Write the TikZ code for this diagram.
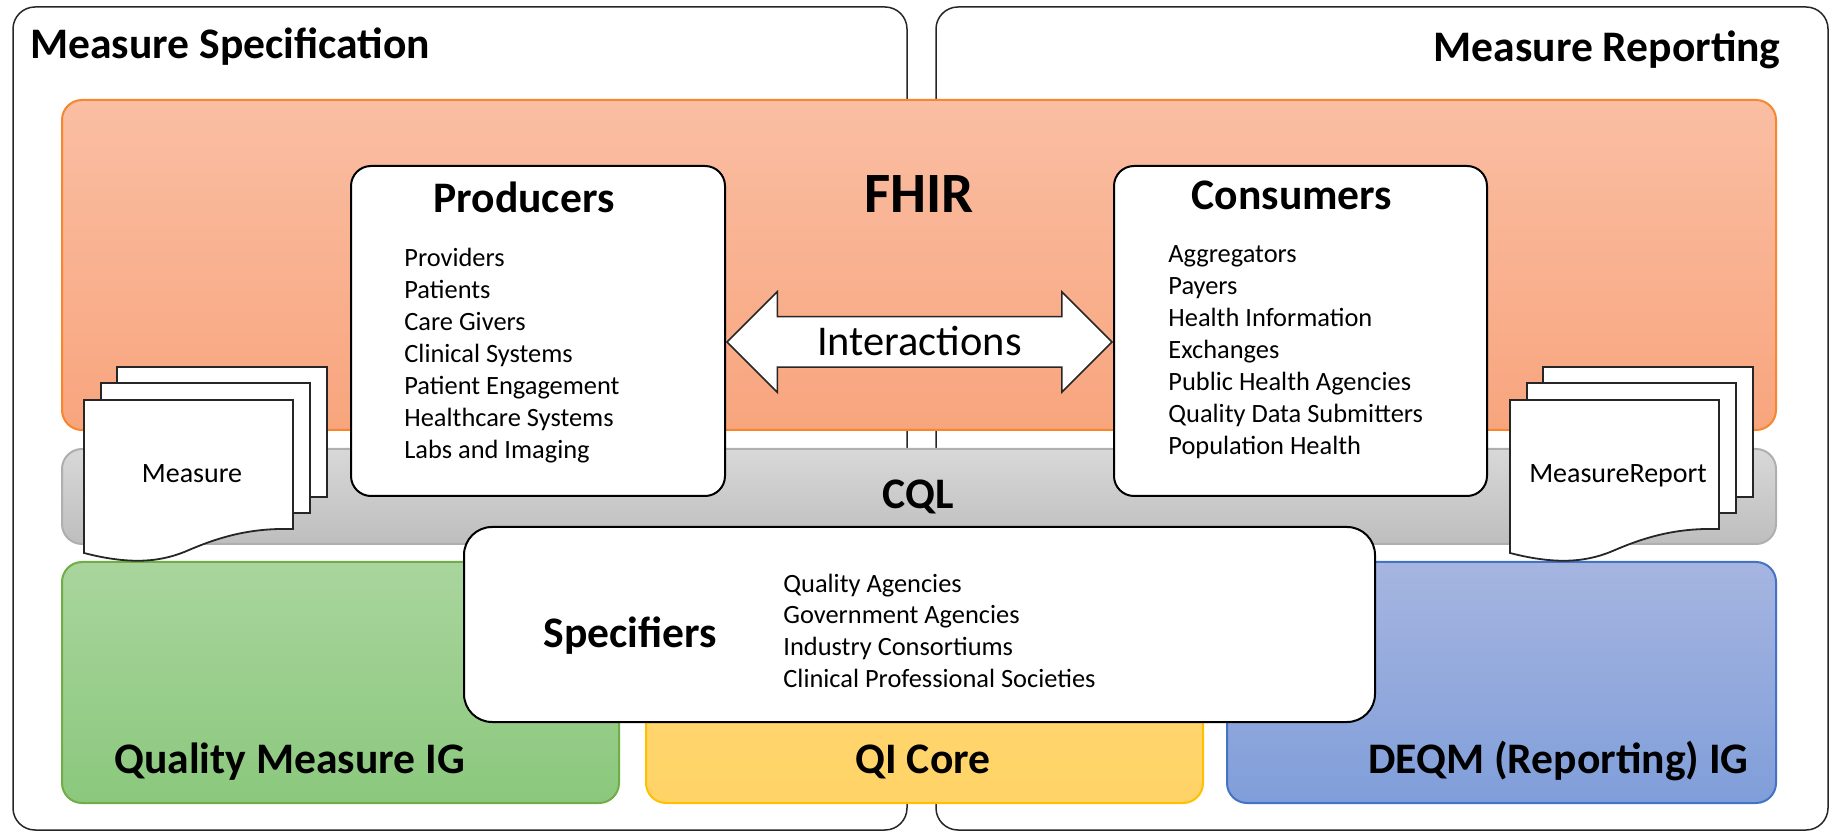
\documentclass[tikz,border=0pt]{standalone}
\usepackage{fontspec}
\setmainfont{Carlito}
\usetikzlibrary{shapes.arrows,calc,fit}
\definecolor{fhirline}{RGB}{247,134,46}
\definecolor{fhirtop}{RGB}{250,190,163}
\definecolor{fhirbot}{RGB}{248,165,125}
\definecolor{cqlline}{RGB}{175,175,175}
\definecolor{cqltop}{RGB}{216,216,216}
\definecolor{cqlbot}{RGB}{190,190,190}
\definecolor{qmline}{RGB}{112,173,71}
\definecolor{qmtop}{RGB}{169,213,157}
\definecolor{qmbot}{RGB}{139,200,125}
\definecolor{qiline}{RGB}{255,192,0}
\definecolor{qitop}{RGB}{255,216,122}
\definecolor{qibot}{RGB}{255,211,102}
\definecolor{deqmline}{RGB}{68,114,196}
\definecolor{deqmtop}{RGB}{166,181,224}
\definecolor{deqmbot}{RGB}{128,158,218}
\newcommand\ttlfont{\fontsize{21.8pt}{26pt}\selectfont\bfseries}
\newcommand\bigfont{\fontsize{28.5pt}{32pt}\selectfont\bfseries}
\newcommand\arrfont{\fontsize{21.2pt}{25pt}\selectfont}
\newcommand\itemfont{\fontsize{13.2pt}{16pt}\selectfont}
\newcommand\docfont{\fontsize{14pt}{17pt}\selectfont}

\begin{document}
\begin{tikzpicture}[x=0.5pt,y=-0.5pt,
  outer/.style={draw=black!85,line width=0.75pt,rounded corners=11pt,inner sep=0pt},
  band/.style={draw=#1line,line width=1pt,rounded corners=10pt,inner sep=0pt,top color=#1top,bottom color=#1bot},
  group/.style={draw=black,line width=1pt,fill=white,rounded corners=#1,inner sep=0pt},
  sheet/.style={draw=black!85,line width=0.9pt,fill=white},
  ttl/.style={font=\ttlfont,inner sep=0pt},
  item/.style={font=\itemfont,inner sep=0pt,anchor=base west},
  doclbl/.style={font=\docfont,inner sep=0pt,anchor=base}]
  \useasboundingbox (0,0) rectangle (1831,833);
  \node[outer,fit={(13,7) (907,830)}] (specarea) {};
  \node[outer,fit={(936,7) (1828,830)}] (reparea) {};
  \node[ttl,anchor=base west] (spectitle) at (30,59) {Measure Specification};
  \node[ttl,anchor=base east] (reptitle) at (1781,62) {Measure Reporting};

  \node[band=fhir,fit={(62,100) (1776,430)}] (fhir) {};
  \node[band=cql,fit={(62,449) (1776,544)}] (cql) {};
  \node[band=qm,fit={(62,562) (619,803)}] (qm) {};
  \node[band=qi,fit={(646,562) (1203,803)}] (qi) {};
  \node[band=deqm,fit={(1227,562) (1776,803)}] (deqm) {};
  \node[font=\bigfont,inner sep=0pt,anchor=base] (fhirlbl) at (919,213) {FHIR};
  \node[ttl,anchor=base] (cqllbl) at (918,509) {CQL};
  \node[ttl,anchor=base west] (qmlbl) at (114,773) {Quality Measure IG};
  \node[ttl,anchor=base] (qilbl) at (923,773) {QI Core};
  \node[ttl,anchor=base east] (deqmlbl) at (1749,773) {DEQM (Reporting) IG};

  \foreach \dx/\dn/\dt in {84/meas/Measure, 1510/rep/MeasureReport}
  {
    \filldraw[sheet] (\dx+33,367) rectangle (\dx+243,497);
    \filldraw[sheet] (\dx+17,383) rectangle (\dx+226,513);
    \filldraw[sheet] (\dx,400) -- (\dx+209,400) -- (\dx+209,529) .. controls (\dx+170,528) and (\dx+140,535) .. (\dx+105,550) .. controls (\dx+80,561) and (\dx+50,566) .. (\dx,553) -- cycle;
    \node[doclbl] (\dn) at (\dx+108,483) {\dt};
    }

  \node[group=10pt,fit={(351,166) (725,496)}] (prod) {};
  \node[group=10pt,fit={(1114,166) (1487,496)}] (cons) {};
  \node[ttl,anchor=base] (prodlbl) at (524,213) {Producers};
  \node[ttl,anchor=base] (conslbl) at (1292,210) {Consumers};
  \foreach \t [count=\i] in {Providers, Patients, Care Givers, Clinical Systems, Patient Engagement, Healthcare Systems, Labs and Imaging}
    \node[item] (prod\i) at (404,235+32*\i) {\t};
  \foreach \t [count=\i] in {Aggregators, Payers, Health Information, Exchanges, Public Health Agencies, Quality Data Submitters, Population Health}
    \node[item] (cons\i) at (1168,231+32*\i) {\t};

  \node[group=14pt,fit={(464,527) (1375,722)}] (spec) {};
  \node[ttl,anchor=base west] (speclbl) at (543,647) {Specifiers};
  \foreach \t [count=\i] in {Quality Agencies, Government Agencies, Industry Consortiums, Clinical Professional Societies}
    \node[item] (spec\i) at (783,561+31.5*\i) {\t};

  \node[double arrow,draw=black!85,line width=0.75pt,fill=white,font=\arrfont,
    minimum height=192.5pt,double arrow head extend=12.5pt,inner ysep=0pt,
    text height=19.25pt,text depth=5.25pt] (inter) at ($(prod.east)!.5!(cons.west)+(0,11)$) {Interactions};
\end{tikzpicture}
\end{document}
